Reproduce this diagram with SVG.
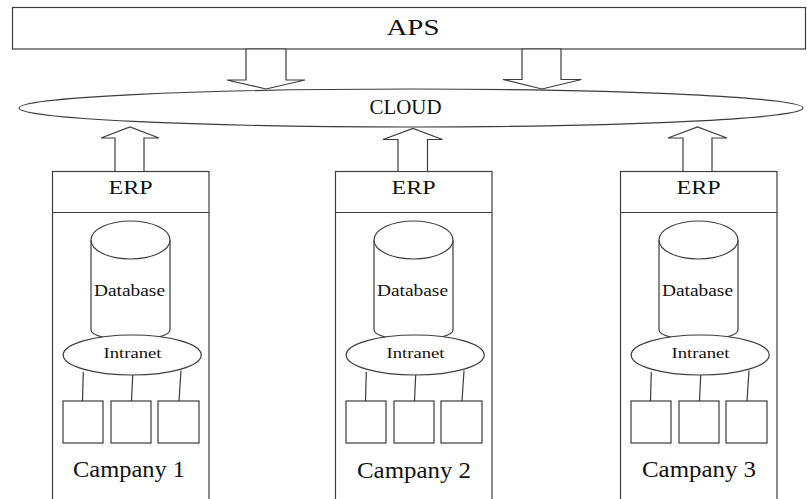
<svg xmlns="http://www.w3.org/2000/svg" width="807" height="499" viewBox="0 0 807 499">
<style>
.s{fill:#fff;stroke:#3c3c3c;stroke-width:1.2}
.l{fill:none;stroke:#3c3c3c;stroke-width:1.2}
text{font-family:"Liberation Serif","Times New Roman",serif;fill:#111;text-anchor:middle}
</style>
<rect width="807" height="499" fill="#fff"/>
<g id="aps">
<rect class="s" x="12.5" y="7.5" width="793" height="41.5"/>
<text x="413" y="34.5" font-size="24" textLength="53" lengthAdjust="spacingAndGlyphs">APS</text>
</g>
<g id="cloud">
<ellipse class="s" cx="411" cy="108" rx="392" ry="19"/>
<text x="405.5" y="113.5" font-size="20" textLength="72" lengthAdjust="spacingAndGlyphs">CLOUD</text>
</g>
<g id="company1">
<rect class="s" x="52.5" y="171.5" width="156.5" height="340"/>
<line class="l" x1="52.5" y1="212.5" x2="209" y2="212.5"/>
<text x="130.5" y="193.5" font-size="18" textLength="44" lengthAdjust="spacingAndGlyphs">ERP</text>
<path class="s" d="M91,240 V330 A39.5,10 0 0 0 170,330 V240"/>
<ellipse class="s" cx="130.5" cy="240" rx="39.5" ry="19"/>
<text x="129.5" y="295.5" font-size="16" textLength="71" lengthAdjust="spacingAndGlyphs">Database</text>
<ellipse class="s" cx="132.2" cy="355" rx="69" ry="20"/>
<text x="132.5" y="357.5" font-size="15" textLength="58" lengthAdjust="spacingAndGlyphs">Intranet</text>
<rect class="s" x="63" y="401" width="40" height="42"/>
<rect class="s" x="111" y="401" width="40" height="42"/>
<rect class="s" x="158" y="401" width="41" height="42"/>
<text x="129" y="477" font-size="24" textLength="112" lengthAdjust="spacingAndGlyphs">Campany 1</text>
</g>
<g id="company2" transform="translate(283,0)">
<rect class="s" x="52.5" y="171.5" width="156.5" height="340"/>
<line class="l" x1="52.5" y1="212.5" x2="209" y2="212.5"/>
<text x="130.5" y="193.5" font-size="18" textLength="44" lengthAdjust="spacingAndGlyphs">ERP</text>
<path class="s" d="M91,240 V330 A39.5,10 0 0 0 170,330 V240"/>
<ellipse class="s" cx="130.5" cy="240" rx="39.5" ry="19"/>
<text x="129.5" y="295.5" font-size="16" textLength="71" lengthAdjust="spacingAndGlyphs">Database</text>
<ellipse class="s" cx="132.2" cy="355" rx="69" ry="20"/>
<text x="132.5" y="357.5" font-size="15" textLength="58" lengthAdjust="spacingAndGlyphs">Intranet</text>
<rect class="s" x="63" y="401" width="40" height="42"/>
<rect class="s" x="111" y="401" width="40" height="42"/>
<rect class="s" x="158" y="401" width="41" height="42"/>
<text x="131" y="478" font-size="24" textLength="114" lengthAdjust="spacingAndGlyphs">Campany 2</text>
</g>
<g id="company3" transform="translate(568,0)">
<rect class="s" x="52.5" y="171.5" width="156.5" height="340"/>
<line class="l" x1="52.5" y1="212.5" x2="209" y2="212.5"/>
<text x="130.5" y="193.5" font-size="18" textLength="44" lengthAdjust="spacingAndGlyphs">ERP</text>
<path class="s" d="M91,240 V330 A39.5,10 0 0 0 170,330 V240"/>
<ellipse class="s" cx="130.5" cy="240" rx="39.5" ry="19"/>
<text x="129.5" y="295.5" font-size="16" textLength="71" lengthAdjust="spacingAndGlyphs">Database</text>
<ellipse class="s" cx="132.2" cy="355" rx="69" ry="20"/>
<text x="132.5" y="357.5" font-size="15" textLength="58" lengthAdjust="spacingAndGlyphs">Intranet</text>
<rect class="s" x="63" y="401" width="40" height="42"/>
<rect class="s" x="111" y="401" width="40" height="42"/>
<rect class="s" x="158" y="401" width="41" height="42"/>
<text x="131" y="477" font-size="24" textLength="114" lengthAdjust="spacingAndGlyphs">Campany 3</text>
</g>
<g id="connectors">
<polygon class="s" points="246,49 246,80 227,80 266,89 305,80 286,80 286,49"/>
<polygon class="s" points="522,49 522,79.5 503,79.5 542,89 581.5,79.5 561,79.5 561,49"/>
<polygon class="s" points="115,171.5 115,138 101,138 130,127 159,138 144,138 144,171.5"/>
<polygon class="s" points="398,171.5 398,139.5 383,139.5 413,128.5 442.5,139.5 427.5,139.5 427.5,171.5"/>
<polygon class="s" points="683,171.5 683,138 668,138 697.5,127 727,138 712,138 712,171.5"/>
<g class="l">
<line x1="83.3" y1="372" x2="82.5" y2="401"/>
<line x1="132.7" y1="375" x2="131.5" y2="401"/>
<line x1="181" y1="370.5" x2="179" y2="401"/>
<line x1="366.3" y1="372" x2="365.5" y2="401"/>
<line x1="415.7" y1="375" x2="414.5" y2="401"/>
<line x1="464" y1="370.5" x2="462" y2="401"/>
<line x1="651.3" y1="372" x2="650.5" y2="401"/>
<line x1="700.7" y1="375" x2="699.5" y2="401"/>
<line x1="749" y1="370.5" x2="747" y2="401"/>
</g>
</g>
</svg>
